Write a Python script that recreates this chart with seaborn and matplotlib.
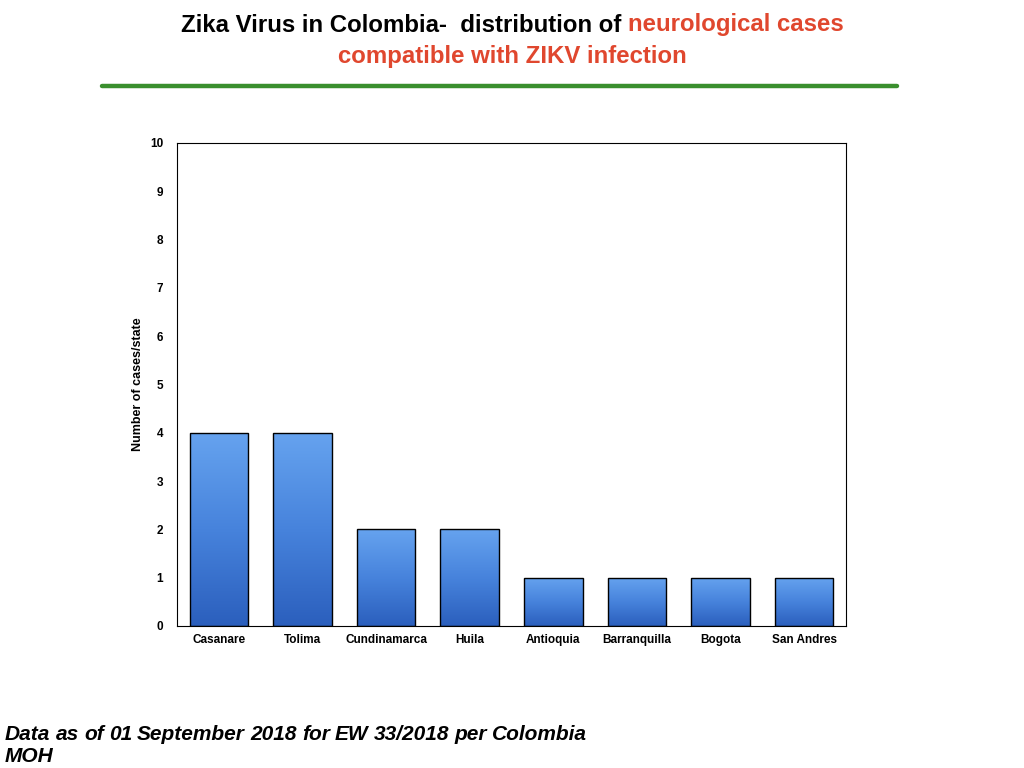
import numpy as np
import pandas as pd
import matplotlib
matplotlib.use("Agg")
import matplotlib.pyplot as plt
import seaborn as sns
from matplotlib.colors import LinearSegmentedColormap

states = ["Casanare", "Tolima", "Cundinamarca", "Huila", "Antioquia",
          "Barranquilla", "Bogota", "San Andres"]
cases = [4, 4, 2, 2, 1, 1, 1, 1]
y_ticks = list(range(0, 11))

title_black = "Zika Virus in Colombia\u2010  distribution of "
title_red1 = "neurological cases"
title_red2 = "compatible with ZIKV infection"
y_label = "Number of cases/state"
footnote_lines = ["Data as of 01 September 2018 for EW 33/2018 per Colombia", "MOH"]

sns.set_theme(style="white")
plt.rcParams['font.family'] = ['Liberation Sans', 'DejaVu Sans']
plt.rcParams['text.color'] = 'black'
plt.rcParams['xtick.color'] = 'black'
plt.rcParams['ytick.color'] = 'black'
plt.rcParams['axes.labelcolor'] = 'black'

df = pd.DataFrame({"state": states, "cases": cases})

fig = plt.figure(figsize=(10.24, 7.68), dpi=100)
ax = fig.add_axes([177/1024, 1-626/768, (846-177)/1024, (626-143)/768])

sns.barplot(data=df, x="state", y="cases", ax=ax, color="#3f7fd8",
            width=0.7, edgecolor="black", linewidth=1.0, saturation=1)

cmap = LinearSegmentedColormap.from_list("blu", ["#2b5fbd", "#4783dc", "#66a3ef"])
grad = np.linspace(0, 1, 256).reshape(-1, 1)
for p in ax.patches:
    x0, y0 = p.get_x(), p.get_y()
    w, h = p.get_width(), p.get_height()
    im = ax.imshow(grad, cmap=cmap, origin="lower", aspect="auto",
                   extent=[x0, x0 + w, y0, y0 + h], zorder=p.get_zorder() + 0.1)
    im.set_clip_path(p)
    p.set_facecolor("none")
    p.set_zorder(p.get_zorder() + 0.2)

ax.set_xlim(-0.5, len(states) - 0.5)
ax.set_ylim(0, 10)
ax.set_yticks(y_ticks)
ax.set_yticklabels([str(t) for t in y_ticks], fontsize=8.5, fontweight="bold")
ax.set_xticks(range(len(states)))
ax.set_xticklabels(states, fontsize=8.5, fontweight="bold")
ax.tick_params(axis="x", length=0, pad=6)
ax.tick_params(axis="y", length=0, pad=10)
ax.set_xlabel("")
ax.set_ylabel(y_label, fontsize=9, fontweight="bold", labelpad=4)
for s in ax.spines.values():
    s.set_color("black")
    s.set_linewidth(0.8)

# Title with mixed colors
fig.canvas.draw()
r = fig.canvas.get_renderer()
fs = 17.3
t1 = fig.text(0, 0, title_black, fontsize=fs, fontweight="bold", color="black")
t2 = fig.text(0, 0, title_red1, fontsize=fs, fontweight="bold", color="#e0472e")
w1 = t1.get_window_extent(r).width / 1024
w2 = t2.get_window_extent(r).width / 1024
start = 0.5 - (w1 + w2) / 2
y1 = 1 - 25/768
t1.set_position((start, y1)); t1.set_va("center")
t2.set_position((start + w1, y1)); t2.set_va("center")
fig.text(0.5, 1 - 57/768, title_red2, fontsize=fs, fontweight="bold",
         color="#e0472e", ha="center", va="center")

fig.add_artist(plt.Line2D([102/1024, 897/1024], [1 - 86/768, 1 - 86/768],
                          color="#3a8f2e", linewidth=3.2))

# Footnote, first line stretched to the reference width via word spacing
target_w = (587 - 5) / 1024
words = footnote_lines[0].split(" ")
fn_fs = 15
x = 5 / 1024
pieces = [fig.text(0, 0, wd, fontsize=fn_fs, fontweight="bold", style="italic",
                   ha="left", va="center") for wd in words]
widths = [pc.get_window_extent(r).width / 1024 for pc in pieces]
gap = (target_w - sum(widths)) / (len(words) - 1)
for pc, wdt in zip(pieces, widths):
    pc.set_position((x, 1 - 734/768))
    x += wdt + gap
fig.text(5/1024, 1 - 757/768, footnote_lines[1], fontsize=fn_fs, fontweight="bold",
         style="italic", ha="left", va="center")

fig.savefig("out.png", dpi=100)
